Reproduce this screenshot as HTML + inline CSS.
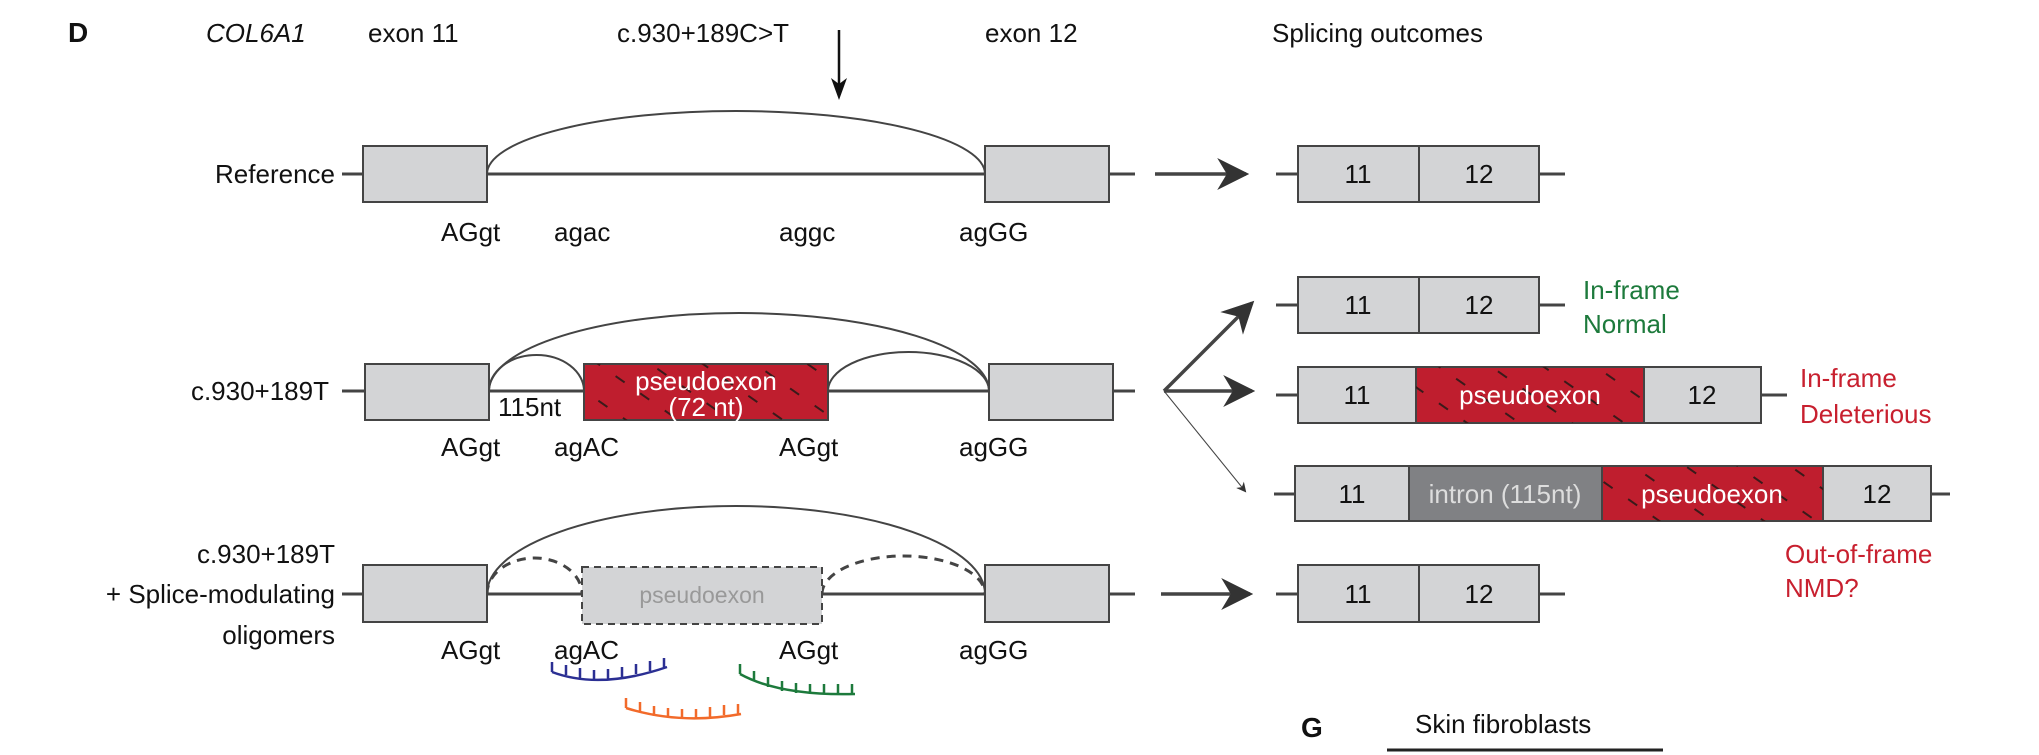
<!DOCTYPE html>
<html><head><meta charset="utf-8"><style>
html,body{margin:0;padding:0;background:#fff}
svg{display:block}
text{font-family:"Liberation Sans",Arial,sans-serif;font-size:26px;fill:#111}
</style></head><body>
<svg width="2039" height="755" viewBox="0 0 2039 755" xmlns="http://www.w3.org/2000/svg">
<defs>
<pattern id="h" width="30" height="30" patternUnits="userSpaceOnUse" patternTransform="rotate(35)">
<line x1="0" y1="15" x2="11" y2="15" stroke="#3a1a1a" stroke-width="2"/>
</pattern>
<marker id="a" markerWidth="10" markerHeight="10" refX="8" refY="5" orient="auto" markerUnits="userSpaceOnUse"><path d="M0,0 L10,5 L0,10 L3,5z" fill="#333"/></marker>
<marker id="ab" viewBox="0 0 10 10" markerWidth="32" markerHeight="32" refX="9" refY="5" orient="auto" markerUnits="userSpaceOnUse"><path d="M0,0 L10,5 L0,10 L3,5z" fill="#333"/></marker>
</defs>
<g>
<text x="68" y="42" style="font-weight:bold;font-size:28px">D</text>
<text x="206" y="42" style="font-style:italic">COL6A1</text>
<text x="368" y="42">exon 11</text>
<text x="617" y="42">c.930+189C&gt;T</text>
<text x="985" y="42">exon 12</text>
<text x="1272" y="42">Splicing outcomes</text>
<line x1="839" y1="30" x2="839" y2="96" stroke="#111" stroke-width="2.5"/>
<path d="M831,78 L839,100 L847,78 L839,84z" fill="#111"/>
</g>
<g stroke="#444" stroke-width="3" fill="none">
<line x1="342" y1="174" x2="1135" y2="174"/>
<path d="M487,174 A249,63 0 0 1 985,174" stroke-width="2"/>
<line x1="342" y1="391" x2="1135" y2="391"/>
<path d="M489,391 A250,78 0 0 1 989,391" stroke-width="2"/>
<path d="M489,391 A47.5,36 0 0 1 584,391" stroke-width="2"/>
<path d="M828,391 A80.5,39 0 0 1 989,391" stroke-width="2"/>
<line x1="342" y1="594" x2="1135" y2="594"/>
<path d="M487,594 A249,88 0 0 1 985,594" stroke-width="2"/>
<path d="M487,594 A47.5,36 0 0 1 582,594" stroke-dasharray="9,7"/>
<path d="M822,594 A81.5,38 0 0 1 985,594" stroke-dasharray="9,7"/>
</g>
<g stroke="#444" stroke-width="2" fill="#d3d4d6">
<rect x="363" y="146" width="124" height="56"/>
<rect x="985" y="146" width="124" height="56"/>
<rect x="365" y="364" width="124" height="56"/>
<rect x="989" y="364" width="124" height="56"/>
<rect x="363" y="565" width="124" height="57"/>
<rect x="985" y="565" width="124" height="57"/>
</g>
<rect x="584" y="364" width="244" height="56" fill="#bf1e2e" stroke="#444" stroke-width="2"/>
<rect x="584" y="364" width="244" height="56" fill="url(#h)"/>
<rect x="582" y="567" width="240" height="57" fill="#d3d4d6" stroke="#444" stroke-width="2" stroke-dasharray="7,5"/>
<text x="706" y="390" text-anchor="middle" style="fill:#fff">pseudoexon</text>
<text x="706" y="416" text-anchor="middle" style="fill:#fff">(72 nt)</text>
<text x="702" y="603" text-anchor="middle" style="fill:#999;font-size:23px">pseudoexon</text>
<text x="498" y="416">115nt</text>
<text x="335" y="183" text-anchor="end">Reference</text>
<text x="329" y="400" text-anchor="end">c.930+189T</text>
<text x="335" y="563" text-anchor="end">c.930+189T</text>
<text x="335" y="603" text-anchor="end">+ Splice-modulating</text>
<text x="335" y="644" text-anchor="end">oligomers</text>
<g>
<text x="441" y="241">AGgt</text><text x="554" y="241">agac</text><text x="779" y="241">aggc</text><text x="959" y="241">agGG</text>
<text x="441" y="456">AGgt</text><text x="554" y="456">agAC</text><text x="779" y="456">AGgt</text><text x="959" y="456">agGG</text>
<text x="441" y="659">AGgt</text><text x="554" y="659">agAC</text><text x="779" y="659">AGgt</text><text x="959" y="659">agGG</text>
</g>
<g fill="none" stroke-width="2.5">
<path d="M552,672 Q600,690 667,667 M552,672v-10 M566,675v-10 M580,678v-10 M594,680v-10 M608,679v-10 M622,677v-10 M636,674v-10 M650,671v-10 M664,668v-10" stroke="#2b2f93"/>
<path d="M626,708 Q680,725 741,714 M626,708v-10 M640,712v-10 M654,716v-10 M668,718v-10 M682,719v-10 M696,719v-10 M710,717v-10 M724,715v-10 M738,714v-10" stroke="#f26a2a"/>
<path d="M740,674 Q780,696 855,694 M740,674v-10 M754,681v-10 M768,687v-10 M782,691v-10 M796,693v-10 M810,694v-10 M824,694v-10 M838,694v-10 M852,694v-10" stroke="#1d7a3c"/>
</g>
<g stroke="#444" stroke-width="3.5" fill="none">
<line x1="1155" y1="174" x2="1246" y2="174" marker-end="url(#ab)"/>
<line x1="1164" y1="391" x2="1252" y2="303" marker-end="url(#ab)"/>
<line x1="1164" y1="391" x2="1252" y2="391" marker-end="url(#ab)"/>
<line x1="1164" y1="391" x2="1245" y2="491" stroke-width="1" marker-end="url(#a)"/>
<line x1="1161" y1="594" x2="1250" y2="594" marker-end="url(#ab)"/>
</g>
<g stroke="#444" stroke-width="3">
<line x1="1276" y1="174" x2="1565" y2="174"/>
<line x1="1276" y1="305" x2="1565" y2="305"/>
<line x1="1276" y1="395" x2="1787" y2="395"/>
<line x1="1274" y1="494" x2="1950" y2="494"/>
<line x1="1276" y1="594" x2="1565" y2="594"/>
</g>
<g stroke="#444" stroke-width="2" fill="#d3d4d6">
<rect x="1298" y="146" width="121" height="56"/><rect x="1419" y="146" width="120" height="56"/>
<rect x="1298" y="277" width="121" height="56"/><rect x="1419" y="277" width="120" height="56"/>
<rect x="1298" y="367" width="118" height="56"/><rect x="1644" y="367" width="117" height="56"/>
<rect x="1295" y="466" width="114" height="55"/><rect x="1823" y="466" width="108" height="55"/>
<rect x="1409" y="466" width="193" height="55" fill="#808184"/>
<rect x="1298" y="565" width="121" height="57"/><rect x="1419" y="565" width="120" height="57"/>
</g>
<rect x="1416" y="367" width="228" height="56" fill="#bf1e2e" stroke="#444" stroke-width="2"/>
<rect x="1416" y="367" width="228" height="56" fill="url(#h)"/>
<rect x="1602" y="466" width="221" height="55" fill="#bf1e2e" stroke="#444" stroke-width="2"/>
<rect x="1602" y="466" width="221" height="55" fill="url(#h)"/>
<g text-anchor="middle">
<text x="1358" y="183">11</text><text x="1479" y="183">12</text>
<text x="1358" y="314">11</text><text x="1479" y="314">12</text>
<text x="1357" y="404">11</text><text x="1530" y="404" style="fill:#fff">pseudoexon</text><text x="1702" y="404">12</text>
<text x="1352" y="503">11</text><text x="1505" y="503" style="fill:#ddd">intron (115nt)</text><text x="1712" y="503" style="fill:#fff">pseudoexon</text><text x="1877" y="503">12</text>
<text x="1358" y="603">11</text><text x="1479" y="603">12</text>
</g>
<g>
<text x="1583" y="299" style="fill:#1d7a3c">In-frame</text>
<text x="1583" y="333" style="fill:#1d7a3c">Normal</text>
<text x="1800" y="387" style="fill:#c8202f">In-frame</text>
<text x="1800" y="423" style="fill:#c8202f">Deleterious</text>
<text x="1785" y="563" style="fill:#c8202f">Out-of-frame</text>
<text x="1785" y="597" style="fill:#c8202f">NMD?</text>
</g>
<text x="1301" y="737" style="font-weight:bold;font-size:28px">G</text>
<text x="1415" y="733">Skin fibroblasts</text>
<line x1="1387" y1="750" x2="1663" y2="750" stroke="#222" stroke-width="3"/>
</svg>
</body></html>
